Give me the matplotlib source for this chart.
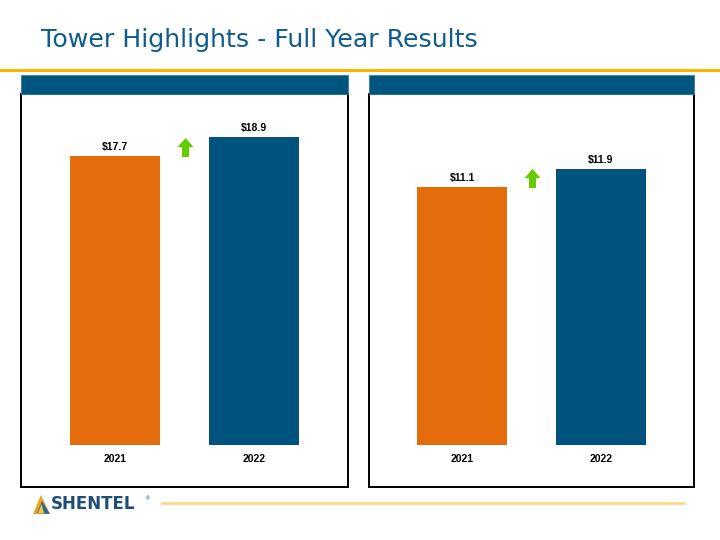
import matplotlib
matplotlib.use("Agg")
import matplotlib.pyplot as plt
from matplotlib.patches import Rectangle, Polygon
from matplotlib.lines import Line2D
from matplotlib.path import Path
import numpy as np

# ---- data ----
years = ["2021", "2022"]
left_values = [17.7, 18.9]
right_values = [11.1, 11.9]
title = "Tower Highlights - Full Year Results"

# ---- style ----
ORANGE = "#e46c0a"
BLUE = "#00527f"
HEADER = "#00557f"
TITLE_C = "#0f5b8c"
GREEN = "#66cc00"
GOLD = "#f7b500"
PALE_GOLD = "#fdd985"

W, H = 720, 540
fig = plt.figure(figsize=(7.2, 5.4), dpi=100)
fig.patch.set_facecolor("white")

def fx(px):
    return px / W

def fy(py):
    return 1 - py / H

# Title
fig.text(fx(41), fy(40), title, fontsize=18.2, color=TITLE_C,
         family="DejaVu Sans", va="center", ha="left")

# gold rule
fig.add_artist(Line2D([0, 1], [fy(70), fy(70)], color=GOLD, lw=2.2,
                      transform=fig.transFigure))

arrow_path = Path([(0, 1), (0.84, 0.05), (0.37, 0.05), (0.37, -1),
                   (-0.37, -1), (-0.37, 0.05), (-0.84, 0.05), (0, 1)],
                  [Path.MOVETO] + [Path.LINETO] * 6 + [Path.CLOSEPOLY])

def panel(x0, x1, values, ylim):
    # header bar
    fig.add_artist(Rectangle((fx(x0), fy(94)), fx(x1) - fx(x0), fy(75) - fy(94),
                             transform=fig.transFigure, facecolor=HEADER,
                             edgecolor="#2f7fb0", lw=0.6))
    ax = fig.add_axes([fx(x0), fy(487), fx(x1) - fx(x0), fy(94) - fy(487)])
    x = np.arange(len(values))
    ax.bar(x, values, width=0.647, color=[ORANGE, BLUE])
    ax.set_xlim(-0.672, 1.672)
    ax.set_ylim(*ylim)
    ax.set_xticks([])
    ax.set_yticks([])
    for s in ax.spines.values():
        s.set_linewidth(1.4)
        s.set_color("black")
    for xi, v in zip(x, values):
        ax.annotate(f"${v:.1f}", (xi, v), xytext=(0, 3), textcoords="offset points",
                    ha="center", va="bottom", fontsize=7.5, fontweight="bold",
                    family="Liberation Sans", color="black")
    for xi, yr in zip(x, years):
        ax.annotate(yr, (xi, 0), xytext=(0, -10), textcoords="offset points",
                    ha="center", va="center", fontsize=7.5, fontweight="bold",
                    family="Liberation Sans", color="black")
    ax.plot([0.5], [np.mean(values)], marker=arrow_path,
            markersize=13.7, color=GREEN, markeredgewidth=0, linestyle="none")
    return ax

panel(21, 348, left_values, (-2.58, 21.53))
panel(369, 694, right_values, (-1.81, 15.13))

# footer line
fig.add_artist(Line2D([fx(162), fx(684)], [fy(503), fy(503)], color=PALE_GOLD, lw=2,
                      transform=fig.transFigure))

# logo triangle
tri_outer = [(fx(33), fy(514)), (fx(41), fy(495)), (fx(50), fy(514))]
fig.add_artist(Polygon(tri_outer, closed=True, transform=fig.transFigure,
                       facecolor="#f2a020", edgecolor="none"))
tri_inner = [(fx(37), fy(513)), (fx(42), fy(501)), (fx(50), fy(514))]
fig.add_artist(Polygon(tri_inner, closed=True, transform=fig.transFigure,
                       facecolor="#2a6a90", edgecolor="none"))
tri_mid = [(fx(38), fy(513)), (fx(41.5), fy(504)), (fx(44), fy(513))]
fig.add_artist(Polygon(tri_mid, closed=True, transform=fig.transFigure,
                       facecolor="#f7c84a", edgecolor="none"))
fig.text(fx(51), fy(504), "SHENTEL", fontsize=12, fontweight="bold",
         color="#1b4f78", family="DejaVu Sans", va="center", ha="left")
fig.text(fx(144), fy(499), "®", fontsize=4, color="#1b4f78",
         family="DejaVu Sans", va="center", ha="left")

fig.savefig("out.png", dpi=100)
